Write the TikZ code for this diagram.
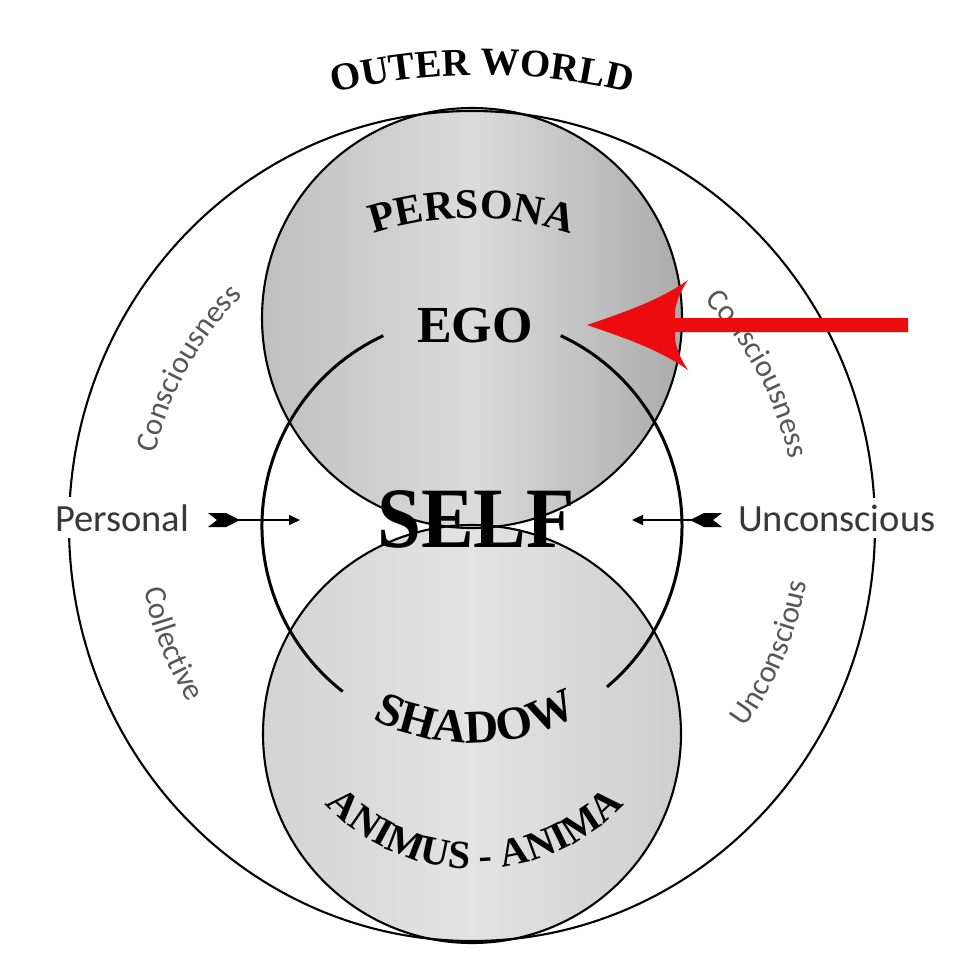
\documentclass[tikz,border=0pt]{standalone}
\usepackage{fontspec}
\setmainfont{Liberation Serif}
\newfontfamily\humsans{Carlito}
\usetikzlibrary{decorations.text,arrows.meta}
\definecolor{ugL}{gray}{0.75}
\definecolor{ugM}{gray}{0.86}
\definecolor{ugR}{gray}{0.67}
\definecolor{lgL}{gray}{0.83}
\definecolor{lgM}{gray}{0.89}
\definecolor{lgR}{gray}{0.81}
\definecolor{thintext}{gray}{0.34}
\definecolor{sidetext}{gray}{0.22}
\definecolor{redarrow}{RGB}{236,12,16}
\newcommand\owfont{\fontsize{39}{39}\selectfont\bfseries}
\newcommand\psfont{\fontsize{42}{42}\selectfont\bfseries}
\newcommand\shfont{\fontsize{47}{47}\selectfont\bfseries}
\newcommand\anfont{\fontsize{40}{40}\selectfont\bfseries}
\newcommand\arcfont{\humsans\fontsize{31}{31}\selectfont}
\begin{document}
\begin{tikzpicture}[x=1pt,y=1pt,
  ring/.style={draw=black,line width=2.1pt},
  selfring/.style={draw=black,line width=3pt},
  arctext/.style={decorate,decoration={text along path,text align=center,text={#1}}},
  thinarc/.style={arctext={#1},decoration={text color=thintext}},
  sidelabel/.style={font=\humsans\fontsize{38.5}{38.5}\selectfont,text=sidetext,fill=white,inner xsep=2pt,inner ysep=7pt,anchor=base west},
  biglabel/.style={anchor=base},
  smallarrow/.style={draw=black,line width=1.4pt,-{Triangle[length=11pt,width=10pt]}},
  fletch/.style={fill=black}]
\useasboundingbox (0,0) rectangle (976,-958);
\fill[white] (0,0) rectangle (976,-958);

\coordinate (C) at (472,-526);
\coordinate (U) at (472,-318);
\coordinate (L) at (472,-734);

% shaded circles
\shade[left color=ugL,right color=ugR,middle color=ugM] (U) circle[radius=210pt];
\shade[left color=lgL,right color=lgR,middle color=lgM] (L) circle[radius=209pt];

% outlines
\draw[ring] (C) ellipse[x radius=403pt,y radius=415pt];
\draw[ring] (U) circle[radius=210pt];
\draw[ring] (L) circle[radius=209pt];
\draw[selfring] ([shift={(-50:210pt)}]C) arc[start angle=-50,end angle=65,radius=210pt];
\draw[selfring] ([shift={(115:210pt)}]C) arc[start angle=115,end angle=232,radius=210pt];

% curved bold labels
\coordinate (owc) at (482,-695);
\path[arctext={|\owfont|OUTER WORLD}] ([shift={(106:620pt)}]owc) arc[start angle=106,end angle=74,radius=620pt];
\path[arctext={|\psfont|PERSONA}] ([shift={(116:308pt)}]C) arc[start angle=116,end angle=64,radius=308pt];
\path[arctext={|\shfont|SHADOW}] ([shift={(236:217pt)}]C) arc[start angle=236,end angle=306,radius=217pt];
\coordinate (anc) at (475,-664);
\path[arctext={|\anfont|ANIMUS - ANIMA}] ([shift={(210:205pt)}]anc) arc[start angle=210,end angle=330,radius=205pt];

% straight bold labels
\node[biglabel,font=\fontsize{52}{52}\selectfont\bfseries] (ego) at (475,-342) {EGO};
\node[biglabel,font=\fontsize{86}{86}\selectfont\bfseries,xscale=0.92] (self) at (476,-547) {SELF};

% curved thin labels
\path[thinarc={|\arcfont|Consciousness}] ([shift={(175:325pt)}]C) arc[start angle=175,end angle=127,radius=325pt];
\path[thinarc={|\arcfont|Consciousness}] ([shift={(52:324pt)}]C) arc[start angle=52,end angle=4,radius=324pt];
\path[thinarc={|\arcfont|Collective}] ([shift={(180:334pt)}]C) arc[start angle=180,end angle=223,radius=334pt];
\path[thinarc={|\arcfont|Unconscious}] ([shift={(-45:339pt)}]C) arc[start angle=-45,end angle=-1,radius=339pt];

% side labels
\node[sidelabel] (personal) at (53,-531) {Personal};
\node[sidelabel] (uncon) at (736,-531) {Unconscious};

% small arrows
\coordinate (pa1) at (236,-520);
\coordinate (pa2) at (300,-520);
\draw[smallarrow] (pa1) -- (pa2);
\fill[fletch] (208,-513) -- (226,-513) -- (240,-520) -- (226,-527) -- (208,-527) -- (217,-520) -- cycle;
\coordinate (ua1) at (694,-520);
\coordinate (ua2) at (632,-520);
\draw[smallarrow] (ua1) -- (ua2);
\fill[fletch] (722,-513) -- (704,-513) -- (690,-520) -- (704,-527) -- (722,-527) -- (713,-520) -- cycle;

% red arrow
\coordinate (rtip) at (587,-325);
\coordinate (rtop) at (688,-280);
\coordinate (rbot) at (688,-370);
\coordinate (rj1) at (675,-318);
\coordinate (rj2) at (675,-332);
\coordinate (re1) at (908,-318);
\coordinate (re2) at (908,-332);
\fill[redarrow] (rtip) .. controls (625,-312) and (660,-300) .. (rtop)
  .. controls (678,-295) and (674,-308) .. (rj1) -- (re1) -- (re2) -- (rj2)
  .. controls (674,-342) and (678,-355) .. (rbot)
  .. controls (660,-350) and (625,-338) .. (rtip) -- cycle;
\end{tikzpicture}
\end{document}
